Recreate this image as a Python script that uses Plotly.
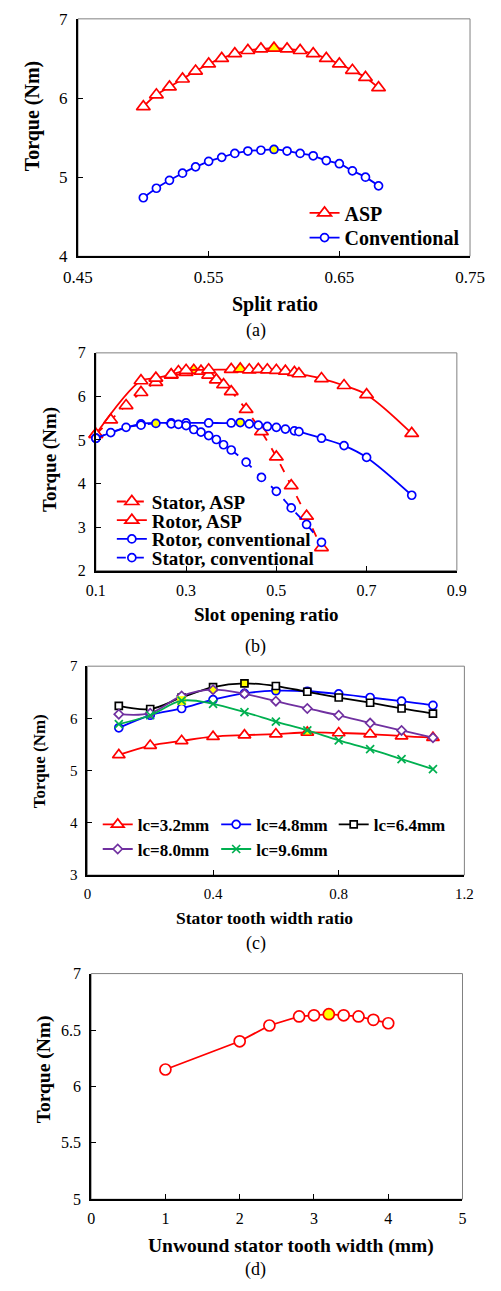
import numpy as np
import plotly.graph_objects as go

W, H = 501, 1291
SERIF = "Liberation Serif"
RED, BLUE, BLACK, PURPLE, GREEN = "#FF0000", "#0000FF", "#000000", "#7030A0", "#00B050"
YELLOW = "#FFFF00"

# ---------------- (a) torque vs split ratio ----------------
split_ratio = [0.50, 0.51, 0.52, 0.53, 0.54, 0.55, 0.56, 0.57, 0.58, 0.59,
               0.60, 0.61, 0.62, 0.63, 0.64, 0.65, 0.66, 0.67, 0.68]
torque_asp_split = [5.89, 6.04, 6.14, 6.24, 6.34, 6.43, 6.50, 6.56, 6.60, 6.62,
                    6.63, 6.62, 6.60, 6.56, 6.50, 6.43, 6.35, 6.26, 6.13]
torque_conv_split = [4.74, 4.86, 4.96, 5.05, 5.13, 5.20, 5.25, 5.30, 5.33, 5.34,
                     5.35, 5.33, 5.30, 5.27, 5.21, 5.17, 5.08, 5.00, 4.89]

# ---------------- (b) torque vs slot opening ratio ----------------
stator_asp_x = [0.100, 0.133, 0.167, 0.200, 0.233, 0.267, 0.283, 0.300, 0.317, 0.333,
                0.350, 0.367, 0.383, 0.400, 0.433, 0.467, 0.500, 0.533, 0.567, 0.600]
stator_asp_y = [5.13, 5.46, 5.79, 6.09, 6.32, 6.49, 6.57, 6.55, 6.60, 6.58,
                6.49, 6.38, 6.27, 6.11, 5.70, 5.19, 4.61, 3.95, 3.25, 2.53]
rotor_asp_x = [0.10, 0.20, 0.233, 0.267, 0.30, 0.35, 0.40, 0.42, 0.44, 0.46,
               0.48, 0.50, 0.52, 0.54, 0.55, 0.60, 0.65, 0.70, 0.80]
rotor_asp_y = [5.13, 6.36, 6.42, 6.50, 6.60, 6.61, 6.62, 6.63, 6.61, 6.62,
               6.61, 6.60, 6.58, 6.55, 6.52, 6.41, 6.25, 6.04, 5.15]
rotor_conv_x = [0.10, 0.20, 0.267, 0.30, 0.35, 0.40, 0.42, 0.44, 0.46, 0.48,
                0.50, 0.52, 0.54, 0.55, 0.60, 0.65, 0.70, 0.80]
rotor_conv_y = [5.04, 5.37, 5.39, 5.39, 5.39, 5.39, 5.40, 5.37, 5.34, 5.31,
                5.29, 5.25, 5.21, 5.19, 5.04, 4.87, 4.60, 3.73]
stator_conv_x = [0.100, 0.133, 0.167, 0.200, 0.233, 0.267, 0.283, 0.300, 0.317, 0.333,
                 0.350, 0.367, 0.383, 0.400, 0.433, 0.467, 0.500, 0.533, 0.567, 0.600]
stator_conv_y = [5.04, 5.17, 5.29, 5.34, 5.38, 5.37, 5.36, 5.33, 5.24, 5.18,
                 5.10, 5.01, 4.89, 4.77, 4.49, 4.14, 3.82, 3.44, 3.06, 2.65]

# ---------------- (c) torque vs stator tooth width ratio ----------------
tooth_ratio = [0.1, 0.2, 0.3, 0.4, 0.5, 0.6, 0.7, 0.8, 0.9, 1.0, 1.1]
torque_lc32 = [5.30, 5.48, 5.57, 5.65, 5.68, 5.70, 5.73, 5.72, 5.70, 5.66, 5.63]
torque_lc48 = [5.82, 6.06, 6.19, 6.36, 6.48, 6.53, 6.52, 6.47, 6.40, 6.33, 6.25]
torque_lc64 = [6.24, 6.18, 6.40, 6.60, 6.67, 6.62, 6.51, 6.40, 6.30, 6.19, 6.09]
torque_lc80 = [6.08, 6.10, 6.43, 6.55, 6.47, 6.33, 6.19, 6.06, 5.91, 5.77, 5.63]
torque_lc96 = [5.89, 6.06, 6.34, 6.28, 6.12, 5.94, 5.77, 5.58, 5.41, 5.22, 5.03]

# ---------------- (d) torque vs unwound stator tooth width ----------------
unwound_width = [1.0, 2.0, 2.4, 2.8, 3.0, 3.2, 3.4, 3.6, 3.8, 4.0]
torque_unwound = [6.15, 6.40, 6.54, 6.62, 6.63, 6.64, 6.63, 6.62, 6.59, 6.56]


def peak_fill(vals, base="white"):
    """White markers with the optimum point filled yellow."""
    i = int(np.argmax(vals))
    return [YELLOW if k == i else base for k in range(len(vals))]


fig = go.Figure()


def add(x, y, name, color, symbol, size, axis, legend, dash="solid",
        shape="spline", fill=None, lw=1.8):
    xa, ya = axis
    fig.add_trace(go.Scatter(
        x=x, y=y, name=name, mode="lines+markers",
        xaxis=xa, yaxis=ya, legend=legend, showlegend=legend is not None,
        line=dict(color=color, width=lw, dash=dash, shape=shape),
        marker=dict(symbol=symbol, size=size,
                    color=fill if fill is not None else peak_fill(y),
                    line=dict(color=color, width=1.7)),
        cliponaxis=False,
    ))


# (a)
add(split_ratio, torque_asp_split, "ASP", RED, "triangle-up", 12, ("x", "y"), "legend")
add(split_ratio, torque_conv_split, "Conventional", BLUE, "circle", 8, ("x", "y"), "legend2")

# (b)
add(stator_asp_x, stator_asp_y, "Stator, ASP", RED, "triangle-up", 12, ("x2", "y2"), "legend3", dash="dash")
add(rotor_asp_x, rotor_asp_y, "Rotor, ASP", RED, "triangle-up", 12, ("x2", "y2"), "legend4")
add(rotor_conv_x, rotor_conv_y, "Rotor, conventional", BLUE, "circle", 8, ("x2", "y2"), "legend5")
add(stator_conv_x, stator_conv_y, "Stator, conventional", BLUE, "circle", 8, ("x2", "y2"), "legend6", dash="dash")

# (c)
add(tooth_ratio, torque_lc32, "lc=3.2mm", RED, "triangle-up", 11, ("x3", "y3"), "legend7")
add(tooth_ratio, torque_lc48, "lc=4.8mm", BLUE, "circle", 8, ("x3", "y3"), "legend8")
add(tooth_ratio, torque_lc64, "lc=6.4mm", BLACK, "square", 7, ("x3", "y3"), "legend9")
add(tooth_ratio, torque_lc80, "lc=8.0mm", PURPLE, "diamond", 7, ("x3", "y3"), "legend10")
i96 = int(np.argmax(torque_lc96))
fig.add_trace(go.Scatter(
    x=[tooth_ratio[i96]], y=[torque_lc96[i96]], mode="markers", xaxis="x3", yaxis="y3",
    showlegend=False, cliponaxis=False,
    marker=dict(symbol="square", size=9, color=YELLOW, line=dict(width=0))))
add(tooth_ratio, torque_lc96, "lc=9.6mm", GREEN, "x-thin", 8, ("x3", "y3"), "legend11",
    fill=GREEN)

# (d)
add(unwound_width, torque_unwound, "Unwound", RED, "circle", 11, ("x4", "y4"), None,
    shape="linear")


def px_x(p):
    return p / W


def px_y(p):
    return 1 - p / H


def xaxis(x0, x1, rng, vals, texts, size, anchor):
    return dict(domain=[px_x(x0), px_x(x1)], range=rng, tickvals=vals, ticktext=texts,
                showline=True, linecolor="black", linewidth=2, ticks="inside", ticklen=5,
                tickcolor="black", tickwidth=1, showgrid=False, zeroline=False,
                ticklabelstandoff=4, fixedrange=True, anchor=anchor,
                tickfont=dict(family=SERIF, size=size, color="black"))


def yaxis(y0, y1, rng, vals, texts, size, anchor):
    return dict(domain=[px_y(y1), px_y(y0)], range=rng, tickvals=vals, ticktext=texts,
                showline=True, linecolor="black", linewidth=2, ticks="inside", ticklen=5,
                tickcolor="black", tickwidth=1, showgrid=False, zeroline=False,
                ticklabelstandoff=5, anchor=anchor, fixedrange=True,
                tickfont=dict(family=SERIF, size=size, color="black"))


def legend_at(xp, yp, size):
    return dict(x=px_x(xp), y=px_y(yp), xanchor="left", yanchor="middle",
                bgcolor="rgba(0,0,0,0)", borderwidth=0, itemwidth=30,
                font=dict(family=SERIF, size=size, color="black", weight="bold"))


layout = dict(
    width=W, height=H, margin=dict(l=0, r=0, t=0, b=0),
    paper_bgcolor="white", plot_bgcolor="white",
    xaxis=xaxis(67, 484, [0.45, 0.75], [0.45, 0.55, 0.65, 0.75],
                ["0.45", "0.55", "0.65", "0.75"], 17, "y"),
    yaxis=yaxis(10, 251, [4, 7], [4, 5, 6, 7], ["4", "5", "6", "7"], 17, "x"),
    xaxis2=xaxis(86, 470, [0.1, 0.9], [0.1, 0.3, 0.5, 0.7, 0.9],
                 ["0.1", "0.3", "0.5", "0.7", "0.9"], 16, "y2"),
    yaxis2=yaxis(349, 570, [2, 7], [2, 3, 4, 5, 6, 7], ["2", "3", "4", "5", "6", "7"], 16, "x2"),
    xaxis3=xaxis(77, 478, [0, 1.2], [0, 0.4, 0.8, 1.2], ["0", "0.4", "0.8", "1.2"], 15, "y3"),
    yaxis3=yaxis(667, 879, [3, 7], [3, 4, 5, 6, 7], ["3", "4", "5", "6", "7"], 15, "x3"),
    xaxis4=xaxis(81, 476, [0, 5], [0, 1, 2, 3, 4, 5], ["0", "1", "2", "3", "4", "5"], 16, "y4"),
    yaxis4=yaxis(979, 1208, [5, 7], [5, 5.5, 6, 6.5, 7], ["5", "5.5", "6", "6.5", "7"], 16, "x4"),
    legend=legend_at(308, 207, 20),
    legend2=legend_at(308, 232, 20),
    legend3=legend_at(103, 500, 19),
    legend4=legend_at(103, 519, 19),
    legend5=legend_at(103, 538, 19),
    legend6=legend_at(103, 557, 19),
    legend7=legend_at(88, 828, 17),
    legend8=legend_at(214, 828, 17),
    legend9=legend_at(339, 828, 17),
    legend10=legend_at(88, 853, 17),
    legend11=legend_at(214, 853, 17),
)
fig.update_layout(**layout)

# thin grey frame around each plot area
for xa, ya in [("x", "y"), ("x2", "y2"), ("x3", "y3"), ("x4", "y4")]:
    fig.add_shape(type="rect", xref=f"{xa} domain", yref=f"{ya} domain",
                  x0=0, x1=1, y0=0, y1=1, layer="below",
                  line=dict(color="#808080", width=1))


# axis titles and panel captions
def label(text, xp, yp, size, bold=True, angle=0):
    fig.add_annotation(text=f"<b>{text}</b>" if bold else text,
                       x=px_x(xp), y=px_y(yp), xref="paper", yref="paper",
                       xanchor="center", yanchor="middle", showarrow=False, textangle=angle,
                       font=dict(family=SERIF, size=size, color="black"))


label("Split ratio", 277, 300, 20)
label("Torque (Nm)", 18, 108, 20, angle=-90)
label("(a)", 256, 326, 18, bold=False)

label("Slot opening ratio", 268, 615, 19)
label("Torque (Nm)", 38, 457, 19, angle=-90)
label("(b)", 256, 647, 18, bold=False)

label("Stator tooth width ratio", 265, 923, 17.5)
label("Torque (Nm)", 26, 763, 17, angle=-90)
label("(c)", 256, 948, 18, bold=False)

label("Unwound stator tooth width (mm)", 294, 1255, 19.5)
label("Torque (Nm)", 31, 1076, 19.5, angle=-90)
label("(d)", 256, 1279, 18, bold=False)

fig.write_html("out.html")
